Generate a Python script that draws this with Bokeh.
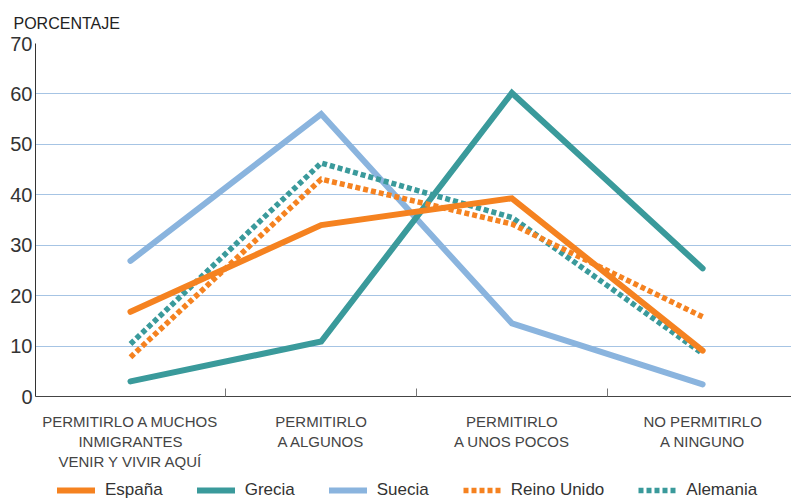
from bokeh.plotting import figure
from bokeh.models import Range1d, FixedTicker, Legend, LegendItem
from bokeh.layouts import column
from bokeh.embed import file_html
from bokeh.resources import INLINE

# ---- data ----
categories = [
    "PERMITIRLO A MUCHOS\nINMIGRANTES\nVENIR Y VIVIR AQUÍ",
    "PERMITIRLO\nA ALGUNOS",
    "PERMITIRLO\nA UNOS POCOS",
    "NO PERMITIRLO\nA NINGUNO",
]
espana = [16.8, 34.0, 39.3, 9.1]
grecia = [3.0, 10.9, 60.2, 25.4]
suecia = [26.9, 56.0, 14.5, 2.4]
reino_unido = [7.8, 43.1, 34.2, 15.8]
alemania = [10.4, 46.3, 35.5, 8.5]
y_ticks = [0, 10, 20, 30, 40, 50, 60, 70]
series_names = ["España", "Grecia", "Suecia", "Reino Unido", "Alemania"]

x_pos = list(range(len(categories)))
mid_ticks = [i + 0.5 for i in x_pos[:-1]]

FONT = "Liberation Sans"
ORANGE = "#F58220"
TEAL = "#3A9A9B"
LBLUE = "#8AB4DE"

styles = [
    dict(line_color=ORANGE, line_width=6, line_join="miter", line_cap="round"),
    dict(line_color=TEAL, line_width=6, line_join="miter", line_cap="round"),
    dict(line_color=LBLUE, line_width=6, line_join="miter", line_cap="round"),
    dict(line_color=ORANGE, line_width=5.5, line_dash="5 3", line_join="miter"),
    dict(line_color=TEAL, line_width=5.5, line_dash="5 3", line_join="miter"),
]
series = [espana, grecia, suecia, reino_unido, alemania]

p = figure(width=791, height=479, output_backend="svg", toolbar_location=None,
           x_range=Range1d(-0.498, 3.466), y_range=Range1d(0, 70),
           min_border_left=35, min_border_right=0, min_border_top=42,
           min_border_bottom=83)
p.outline_line_color = None
p.background_fill_color = "white"
p.border_fill_color = "white"

p.title.text = "PORCENTAJE"
p.title.text_font = FONT
p.title.text_font_size = "16px"
p.title.text_font_style = "normal"
p.title.text_color = "#222222"
p.title.align = "left"
p.title.offset = -22
p.title.standoff = 24

# y axis
p.yaxis.ticker = FixedTicker(ticks=y_ticks)
p.yaxis.major_tick_in = 0
p.yaxis.major_tick_out = 0
p.yaxis.minor_tick_line_color = None
p.yaxis.axis_line_color = "#333333"
p.yaxis.major_label_text_font = FONT
p.yaxis.major_label_text_font_size = "20px"
p.yaxis.major_label_text_color = "#333333"
p.yaxis.major_label_standoff = 3

# x axis
p.xaxis.ticker = FixedTicker(ticks=x_pos, minor_ticks=mid_ticks)
p.xaxis.major_tick_in = 0
p.xaxis.major_tick_out = 0
p.xaxis.minor_tick_in = 8
p.xaxis.minor_tick_out = 0
p.xaxis.minor_tick_line_color = "#777777"
p.xaxis.axis_line_color = "#444444"
p.xaxis.major_label_overrides = dict(zip(x_pos, categories))
p.xaxis.major_label_text_font = FONT
p.xaxis.major_label_text_font_size = "15px"
p.xaxis.major_label_text_color = "#444444"
p.xaxis.major_label_standoff = 16

p.xgrid.visible = False
p.ygrid.ticker = FixedTicker(ticks=y_ticks)
p.ygrid.grid_line_color = "#A6C4E4"
p.ygrid.grid_line_width = 1

# drawing order: Suecia, Grecia, Alemania, Reino Unido, España
for idx in [2, 1, 4, 3, 0]:
    p.line(x_pos, series[idx], **styles[idx])

# legend strip (separate small figure so that it sits below the axis labels);
# its ranges keep the series out of view so only the legend shows
lg = figure(width=791, height=22, output_backend="svg", toolbar_location=None,
            x_axis_type=None, y_axis_type=None,
            x_range=Range1d(100, 101), y_range=Range1d(100, 101),
            min_border_left=35, min_border_right=0, min_border_top=0,
            min_border_bottom=0)
lg.outline_line_color = None
lg.grid.visible = False
items = []
for name, vals, st in zip(series_names, series, styles):
    r = lg.line(x_pos, vals, **st)
    items.append(LegendItem(label=name, renderers=[r]))
legend = Legend(items=items, orientation="horizontal", location=(22, 1),
                glyph_width=38, glyph_height=20, label_standoff=10, spacing=34,
                padding=0, margin=0, border_line_color=None, background_fill_alpha=0,
                label_text_font=FONT, label_text_font_size="17px",
                label_text_color="#333333")
lg.add_layout(legend)

page = column(p, lg, spacing=0)
open("out.html", "w").write(file_html(page, INLINE))
